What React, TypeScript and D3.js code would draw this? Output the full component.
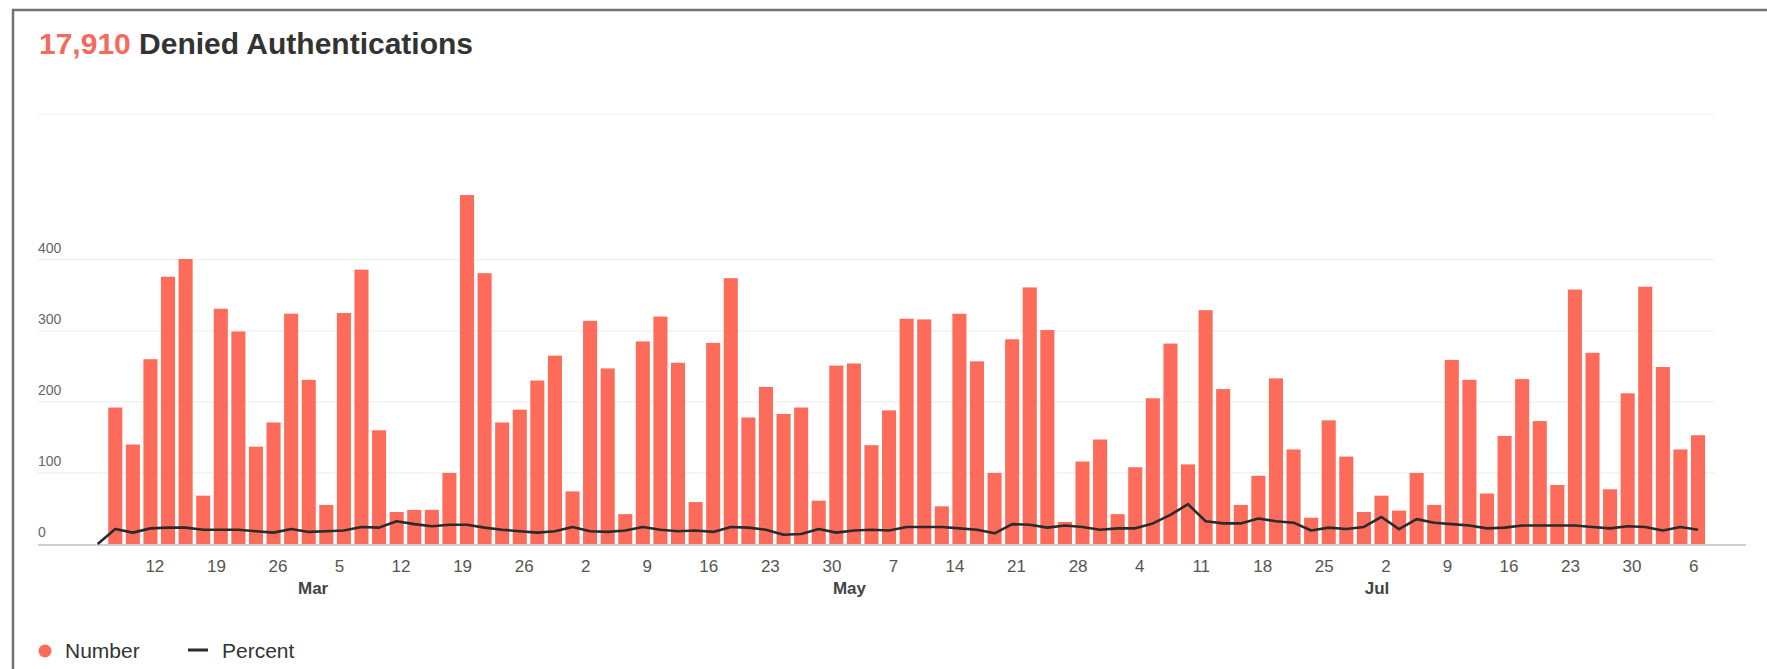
import { useMemo } from 'react';
import * as d3 from 'd3';

const WIDTH = 1767;
const HEIGHT = 669;

const TOTAL_LABEL = '17,910';
const TITLE_LABEL = ' Denied Authentications';

// one point every 2 days from Feb 5 2018; the first point carries no bar
const START_DATE = '2018-02-05';
const STEP_DAYS = 2;

const numberValues = [
  0, 192, 140, 260, 376, 401, 68, 331, 299, 137, 171, 324, 231, 55, 325, 386, 160, 45, 48, 48, 100,
  491, 381, 171, 189, 230, 265, 74, 314, 247, 42, 285, 320, 255, 59, 283, 374, 178, 221, 183, 192,
  61, 251, 254, 139, 188, 317, 316, 53, 324, 257, 100, 288, 361, 301, 31, 116, 147, 42, 108, 205,
  282, 112, 329, 218, 55, 96, 233, 133, 37, 174, 123, 45, 68, 47, 100, 55, 259, 231, 71, 152,
  232, 173, 83, 358, 269, 77, 212, 362, 249, 133, 153,
];

const percentValues = [
  0, 2.1, 1.6, 2.2, 2.3, 2.3, 2.0, 2.0, 2.0, 1.8, 1.6, 2.1, 1.7, 1.8, 1.9, 2.4, 2.3, 3.2, 2.8, 2.5, 2.7,
  2.7, 2.3, 2.0, 1.8, 1.6, 1.8, 2.4, 1.8, 1.7, 1.9, 2.4, 2.0, 1.8, 1.9, 1.7, 2.4, 2.3, 2.0, 1.3, 1.4,
  2.1, 1.6, 1.9, 2.0, 1.9, 2.4, 2.4, 2.4, 2.2, 2.0, 1.5, 2.8, 2.7, 2.3, 2.6, 2.4, 2.0, 2.2, 2.2, 2.9,
  4.1, 5.6, 3.2, 2.9, 2.9, 3.6, 3.2, 3.0, 1.9, 2.3, 2.1, 2.4, 3.8, 2.1, 3.5, 3.0, 2.8, 2.6, 2.2, 2.3,
  2.6, 2.6, 2.6, 2.6, 2.4, 2.2, 2.5, 2.4, 1.9, 2.4, 2.0,
];

const yTickValues = [0, 100, 200, 300, 400];
const monthNames = ['Mar', 'May', 'Jul'];
const monthDates = ['2018-03-02', '2018-05-02', '2018-07-01'];
const tickRange = ['2018-02-12', '2018-08-07'];
const xDomain = ['2018-02-05', '2018-08-09'];

const RED = '#fd6b5a';
const FONT = '"Liberation Sans", Arial, sans-serif';

const parse = d3.utcParse('%Y-%m-%d');

export default function App() {
  const chart = useMemo(() => {
    const start = parse(START_DATE)!;
    const dates = numberValues.map((_, i) => d3.utcDay.offset(start, i * STEP_DAYS));
    const rows = dates.map((date, i) => ({ date, n: numberValues[i], p: percentValues[i] }));

    const x = d3.scaleUtc()
      .domain([parse(xDomain[0])!, parse(xDomain[1])!])
      .range([93.3, 1720]);
    const y = d3.scaleLinear().domain([0, 605]).range([544, 114]);
    const yPct = d3.scaleLinear().domain([0, 40]).range([y(0), y(400)]);

    const mid = (d: Date) => x(d3.utcHour.offset(d, 12));
    const barW = (x(d3.utcDay.offset(start, STEP_DAYS)) - x(start)) * 0.8;

    const line = d3.line<{ date: Date; p: number }>()
      .x((d) => mid(d.date))
      .y((d) => yPct(d.p));

    const ticks = d3.utcMonday.range(parse(tickRange[0])!, parse(tickRange[1])!);
    return { rows, x, y, mid, barW, path: line(rows) ?? '', ticks };
  }, []);

  const { rows, x, y, mid, barW, path, ticks } = chart;
  const gridLeft = 38;
  const gridRight = 1714;

  return (
    <svg
      width={WIDTH}
      height={HEIGHT}
      style={{ position: 'absolute', left: 0, top: 0, background: '#fff', fontFamily: FONT }}
    >
      <rect x={13} y={10} width={WIDTH + 20} height={HEIGHT + 20} fill="#fff" stroke="#727272" strokeWidth={2.5} />

      <text x={39} y={54} fontSize={30} fontWeight="bold" fill="#333">
        <tspan fill="#f56a5e">{TOTAL_LABEL}</tspan>
        <tspan>{TITLE_LABEL}</tspan>
      </text>

      {/* grid */}
      <line x1={gridLeft} x2={gridRight} y1={y(605)} y2={y(605)} stroke="#f0f0f0" strokeWidth={1.2} />
      {yTickValues.filter((v) => v > 0).map((v) => (
        <line key={v} x1={gridLeft} x2={gridRight} y1={y(v)} y2={y(v)} stroke="#f0f0f0" strokeWidth={1.2} />
      ))}
      {yTickValues.map((v) => (
        <text key={`l${v}`} x={gridLeft} y={y(v) - 7} fontSize={14} fill="#666">
          {v}
        </text>
      ))}

      {/* bars */}
      {rows.filter((r) => r.n > 0).map((r) => (
        <rect
          key={r.date.toISOString()}
          x={mid(r.date) - barW / 2}
          y={y(r.n)}
          width={barW}
          height={y(0) - y(r.n)}
          fill={RED}
        />
      ))}

      <line x1={gridLeft} x2={1746} y1={y(0) + 1} y2={y(0) + 1} stroke="#d0d0d0" strokeWidth={2} />

      <path d={path} fill="none" stroke="#2b2b2b" strokeWidth={2.6} strokeLinejoin="round" />

      {/* x axis */}
      {ticks.map((t) => (
        <text key={t.toISOString()} x={x(t)} y={572} fontSize={17} fill="#555" textAnchor="middle">
          {d3.utcFormat('%-d')(t)}
        </text>
      ))}
      {monthNames.map((m, i) => (
        <text key={m} x={x(parse(monthDates[i])!)} y={594} fontSize={17} fontWeight="bold" fill="#444" textAnchor="middle">
          {m}
        </text>
      ))}

      {/* legend */}
      <circle cx={45} cy={651} r={6.5} fill={RED} />
      <text x={65} y={658} fontSize={21} fill="#333">Number</text>
      <line x1={188} x2={208} y1={650} y2={650} stroke="#2b2b2b" strokeWidth={3} />
      <text x={222} y={658} fontSize={21} fill="#333">Percent</text>
    </svg>
  );
}
